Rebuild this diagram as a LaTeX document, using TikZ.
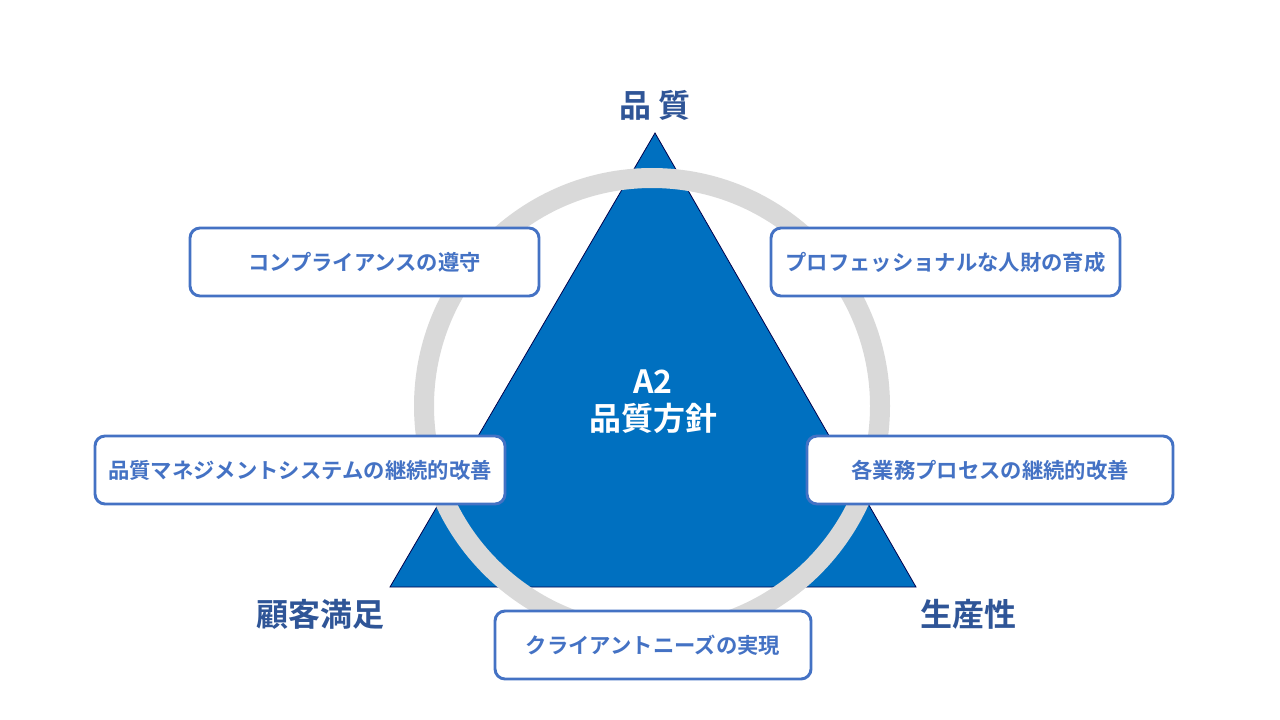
\documentclass[tikz,border=0pt]{standalone}
\usepackage{fontspec}
\usepackage{tikz}
\newfontfamily\jpfont{Noto Sans CJK JP}[BoldFont={* Bold}]
\usetikzlibrary{shapes.geometric, arrows}
\definecolor{triblue}{HTML}{0070C0}
\definecolor{boxblue}{HTML}{4472C4}
\definecolor{labelblue}{HTML}{2F5597}
\definecolor{ringgray}{HTML}{D9D9D9}
\tikzset{
  x=0.75pt, y=-0.75pt,
  font={\jpfont\bfseries},
  item/.style={draw=boxblue, line width=2.2pt, fill=white, rounded corners=7.5pt,
    minimum height=51pt, text=boxblue, font={\jpfont\bfseries\fontsize{16pt}{19pt}\selectfont}},
  corner/.style={text=labelblue, font={\jpfont\bfseries\fontsize{24pt}{29pt}\selectfont}}}

\begin{document}
\begin{tikzpicture}
\useasboundingbox (0,0) rectangle (1280,720);
\coordinate (top)   at (655,133);
\coordinate (left)  at (390,587);
\coordinate (right) at (916,587);
\draw[fill=triblue,draw=black!70!blue,line width=0.6pt] (top) -- (left) -- (right) -- cycle;
\draw[ringgray,line width=15pt] (652,406) circle[radius=228];
\node[text=white,align=center,font={\jpfont\bfseries\fontsize{24pt}{28pt}\selectfont}] (policy) at (653,402) {A2\\品質方針};
\node[item,minimum width=261.75pt] (comp)  at (364.5,262) {コンプライアンスの遵守};
\node[item,minimum width=261.75pt] (pro)   at (945.5,262) {プロフェッショナルな人財の育成};
\node[item,minimum width=307.5pt]  (qms)   at (300,470)   {品質マネジメントシステムの継続的改善};
\node[item,minimum width=274.5pt]  (proc)  at (990,470)   {各業務プロセスの継続的改善};
\node[item,minimum width=237pt]    (needs) at (653,645)   {クライアントニーズの実現};
\node[corner] (quality)  at (655,105) {品 質};
\node[corner] (customer) at (320,614) {顧客満足};
\node[corner] (product)  at (968,614) {生産性};
\end{tikzpicture}
\end{document}
